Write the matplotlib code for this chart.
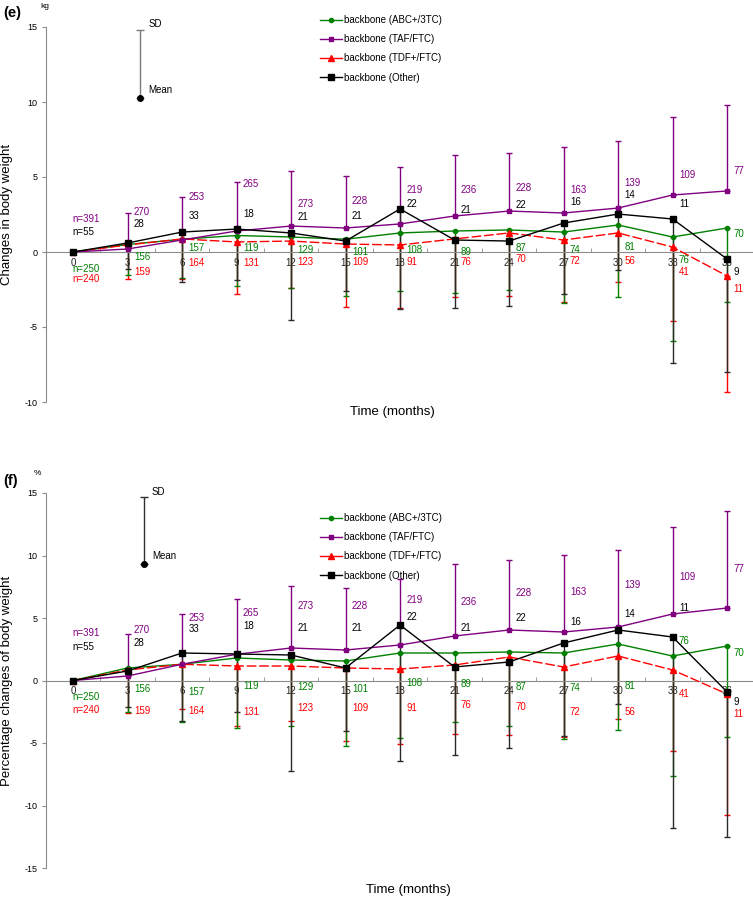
import matplotlib
matplotlib.use('Agg')
import matplotlib.pyplot as plt
from matplotlib.lines import Line2D

plt.rcParams['font.family'] = ['Liberation Sans', 'DejaVu Sans']
plt.rcParams['axes.unicode_minus'] = False

months = [0, 3, 6, 9, 12, 15, 18, 21, 24, 27, 30, 33, 36]

# number of patients per visit
n_abc = [250, 156, 157, 119, 129, 101, 108, 89, 87, 74, 81, 76, 70]
n_taf = [391, 270, 253, 265, 273, 228, 219, 236, 228, 163, 139, 109, 77]
n_tdf = [240, 159, 164, 131, 123, 109, 91, 76, 70, 72, 56, 41, 11]
n_oth = [55, 28, 33, 18, 21, 21, 22, 21, 22, 16, 14, 11, 9]

# (e) changes in body weight, kg (mean, SD)
kg_abc = [0, 0.5, 0.85, 1.1, 1.0, 0.85, 1.27, 1.4, 1.47, 1.33, 1.8, 1.0, 1.6]
kg_abc_sd = [0, 2.0, 2.55, 3.37, 3.4, 3.8, 3.9, 4.1, 4.0, 4.7, 4.8, 6.9, 4.9]
kg_taf = [0, 0.2, 0.8, 1.4, 1.73, 1.6, 1.87, 2.4, 2.73, 2.6, 2.93, 3.8, 4.07]
kg_taf_sd = [0, 2.4, 2.9, 3.3, 3.7, 3.5, 3.8, 4.1, 3.9, 4.4, 4.5, 5.2, 5.7]
kg_tdf = [0, 0.47, 0.87, 0.67, 0.73, 0.53, 0.47, 0.87, 1.27, 0.8, 1.27, 0.33, -1.6]
kg_tdf_sd = [0, 2.3, 2.7, 3.5, 3.1, 4.2, 4.2, 3.9, 4.2, 4.1, 3.3, 4.9, 7.7]
kg_oth = [0, 0.6, 1.33, 1.53, 1.27, 0.73, 2.87, 0.8, 0.73, 1.93, 2.53, 2.2, -0.47]
kg_oth_sd = [0, 1.7, 3.3, 3.4, 5.8, 3.3, 6.7, 4.5, 4.3, 4.7, 3.7, 9.6, 7.5]

# (f) percentage changes of body weight, % (mean, SD)
pc_abc = [0, 1.0, 1.3, 1.8, 1.64, 1.56, 2.2, 2.2, 2.28, 2.2, 2.92, 1.96, 2.76]
pc_abc_sd = [0, 3.5, 4.6, 5.6, 5.3, 6.8, 6.8, 5.5, 5.9, 6.9, 6.9, 9.6, 7.3]
pc_taf = [0, 0.36, 1.3, 2.1, 2.6, 2.44, 2.84, 3.56, 4.04, 3.88, 4.28, 5.32, 5.8]
pc_taf_sd = [0, 3.4, 4.0, 4.4, 5.0, 5.0, 5.3, 5.8, 5.6, 6.2, 6.2, 7.0, 7.8]
pc_tdf = [0, 0.84, 1.3, 1.16, 1.16, 1.0, 0.92, 1.24, 1.88, 1.08, 1.96, 0.84, -1.08]
pc_tdf_sd = [0, 3.4, 3.6, 4.8, 4.4, 5.8, 6.0, 5.5, 6.2, 5.6, 5.0, 6.5, 9.7]
pc_oth = [0, 0.76, 2.2, 2.12, 2.04, 1.0, 4.44, 1.08, 1.48, 3.0, 4.04, 3.48, -0.92]
pc_oth_sd = [0, 2.9, 5.4, 4.6, 9.3, 5.0, 10.9, 7.0, 6.9, 7.4, 5.9, 15.3, 11.6]

# where the n labels sit (y, data units)
kg_lab_abc = [-1.13, -0.33, 0.27, 0.27, 0.13, 0.0, 0.13, 0.0, 0.27, 0.13, 0.33, -0.53, 1.2]
kg_lab_taf = [2.2, 2.67, 3.67, 4.53, 3.2, 3.4, 4.13, 4.13, 4.27, 4.13, 4.6, 5.13, 5.4]
kg_lab_tdf = [-1.8, -1.33, -0.73, -0.73, -0.67, -0.67, -0.67, -0.67, -0.47, -0.6, -0.6, -1.33, -2.47]
kg_lab_oth = [1.33, 1.87, 2.4, 2.53, 2.33, 2.4, 3.2, 2.8, 3.13, 3.33, 3.8, 3.2, -1.33]

pc_lab_abc = [-1.32, -0.68, -0.92, -0.44, -0.52, -0.68, -0.2, -0.28, -0.52, -0.6, -0.44, 3.16, 2.2]
pc_lab_taf = [3.8, 4.04, 5.0, 5.4, 5.96, 5.96, 6.44, 6.28, 7.0, 7.08, 7.64, 8.28, 8.92]
pc_lab_tdf = [-2.36, -2.44, -2.44, -2.52, -2.2, -2.2, -2.2, -1.96, -2.12, -2.52, -2.52, -1.08, -2.68]
pc_lab_oth = [2.68, 3.0, 4.12, 4.36, 4.2, 4.2, 5.08, 4.2, 5.0, 4.68, 5.32, 5.8, -1.72]

GREEN = '#008000'
PURPLE = '#800080'
RED = '#ff0000'
BLACK = '#000000'
AXC = '#8c8c8c'

W, H = 753, 898
fig = plt.figure(figsize=(W / 100, H / 100), dpi=100)

px_per_month = 18.17
x0 = 73 - 1.5 * px_per_month
aw = 39 * px_per_month


def make_axes(top_px, bottom_px):
    return fig.add_axes([x0 / W, 1 - bottom_px / H, aw / W, (bottom_px - top_px) / H])


def draw_panel(ax, data, labels, ylim, yticks, key, legend_top):
    ax.set_xlim(-1.5, 37.5)
    ax.set_ylim(*ylim)
    for s in ['top', 'right']:
        ax.spines[s].set_visible(False)
    ax.spines['bottom'].set_position(('data', 0))
    ax.spines['bottom'].set_color(AXC)
    ax.spines['left'].set_color(AXC)
    ax.set_xticks(months)
    ax.set_xticks([m + 1.5 for m in months[:-1]], minor=True)
    ax.tick_params(axis='x', which='major', length=0, pad=4, labelsize=7, colors='#222222')
    ax.tick_params(axis='x', which='minor', direction='in', length=3, color=AXC)
    ax.set_yticks(yticks)
    ax.tick_params(axis='y', direction='out', length=3, color=AXC, labelsize=6.5, pad=3)

    # error bars: TAF goes up, the others go down; Other drawn last so it stays visible
    for mean, sd, col, up in [(data['tdf'][0], data['tdf'][1], RED, False),
                              (data['abc'][0], data['abc'][1], GREEN, False),
                              (data['taf'][0], data['taf'][1], PURPLE, True),
                              (data['oth'][0], data['oth'][1], '#2a2a2a', False)]:
        zero = [0] * len(sd)
        yerr = [zero, sd] if up else [sd, zero]
        ax.errorbar(months, mean, yerr=yerr, fmt='none', ecolor=col,
                    elinewidth=1, capsize=2, capthick=1, zorder=2)

    ax.plot(months, data['abc'][0], color=GREEN, lw=1, marker='o', ms=3, zorder=3)
    ax.plot(months, data['tdf'][0], color=RED, lw=1, marker='^', ms=4,
            dashes=(7, 2), zorder=3)
    ax.plot(months, data['taf'][0], color=PURPLE, lw=1, marker='s', ms=3, zorder=4)
    ax.plot(months, data['oth'][0], color=BLACK, lw=1, marker='s', ms=5, zorder=5)

    # n labels
    for ns, ys, col in [(n_abc, labels['abc'], GREEN), (n_taf, labels['taf'], PURPLE),
                        (n_tdf, labels['tdf'], RED), (n_oth, labels['oth'], BLACK)]:
        for i, (m, n, y) in enumerate(zip(months, ns, ys)):
            if i == 0:
                ax.text(m - 0.05, y, 'n=%d' % n, color=col, fontsize=7, ha='left', va='center')
            else:
                ax.text(m + 0.35, y, str(n), color=col, fontsize=7, ha='left', va='center')

    # SD / Mean key
    kx, km, ksd, kcol = key
    ax.errorbar([kx], [km], yerr=[[0], [ksd]], fmt='o', color=BLACK, ms=4,
                ecolor=kcol, elinewidth=1, capsize=3, capthick=1)
    ax.text(kx + 0.45, km + ksd + 0.4, 'SD', fontsize=7, ha='left', va='center')
    ax.text(kx + 0.45, km + 0.55 * (ylim[1] - ylim[0]) / 25, 'Mean', fontsize=7,
            ha='left', va='center')

    handles = [Line2D([], [], color=GREEN, marker='o', ms=3, lw=1),
               Line2D([], [], color=PURPLE, marker='s', ms=3, lw=1),
               Line2D([], [], color=RED, marker='^', ms=4, lw=1),
               Line2D([], [], color=BLACK, marker='s', ms=4, lw=1)]
    names = ['backbone (ABC+/3TC)', 'backbone (TAF/FTC)',
             'backbone (TDF+/FTC)', 'backbone (Other)']
    fig.legend(handles, names, loc='upper left', frameon=False, fontsize=7,
               bbox_to_anchor=(320 / W, 1 - legend_top / H), borderpad=0,
               borderaxespad=0, handlelength=2.3, handletextpad=0.2,
               labelspacing=0.95)


ax1 = make_axes(27, 402)
draw_panel(ax1,
           {'abc': (kg_abc, kg_abc_sd), 'taf': (kg_taf, kg_taf_sd),
            'tdf': (kg_tdf, kg_tdf_sd), 'oth': (kg_oth, kg_oth_sd)},
           {'abc': kg_lab_abc, 'taf': kg_lab_taf, 'tdf': kg_lab_tdf, 'oth': kg_lab_oth},
           (-10, 15), [-10, -5, 0, 5, 10, 15], (3.7, 10.27, 4.5, '#7a7a7a'), 15)
ax1.yaxis.set_label_coords(-0.046, 0.5)
ax1.set_ylabel('Changes in body weight', fontsize=9.5)

ax2 = make_axes(493, 868)
draw_panel(ax2,
           {'abc': (pc_abc, pc_abc_sd), 'taf': (pc_taf, pc_taf_sd),
            'tdf': (pc_tdf, pc_tdf_sd), 'oth': (pc_oth, pc_oth_sd)},
           {'abc': pc_lab_abc, 'taf': pc_lab_taf, 'tdf': pc_lab_tdf, 'oth': pc_lab_oth},
           (-15, 15), [-15, -10, -5, 0, 5, 10, 15], (3.9, 9.3, 5.4, '#303030'), 513)
ax2.yaxis.set_label_coords(-0.046, 0.5)
ax2.set_ylabel('Percentage changes of body weight', fontsize=9.5)

fig.text(392 / W, 1 - 412 / H, 'Time (months)', fontsize=9.5, ha='center', va='center')
fig.text(408 / W, 1 - 890 / H, 'Time (months)', fontsize=9.5, ha='center', va='center')

fig.text(3 / W, 1 - 13 / H, '(e)', fontsize=10.5, fontweight='bold', ha='left', va='center')
fig.text(45 / W, 1 - 6 / H, 'kg', fontsize=6, ha='center', va='center')
fig.text(3 / W, 1 - 481 / H, '(f)', fontsize=10.5, fontweight='bold', ha='left', va='center')
fig.text(37 / W, 1 - 474 / H, '%', fontsize=6, ha='center', va='center')

fig.savefig('out.png', dpi=100)
